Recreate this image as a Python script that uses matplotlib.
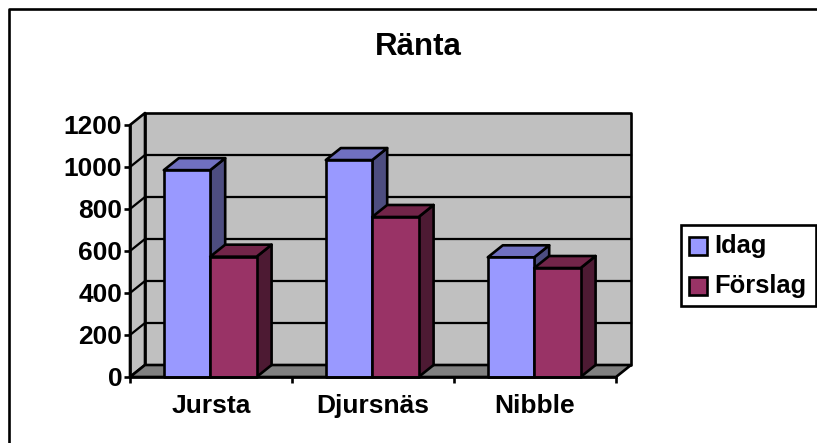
import matplotlib.pyplot as plt
from matplotlib.patches import Polygon, Rectangle
from matplotlib.lines import Line2D

plt.rcParams["font.family"] = "Liberation Sans"
plt.rcParams["font.weight"] = "bold"

categories = ["Jursta", "Djursnäs", "Nibble"]
idag = [985, 1033, 570]
forslag = [573, 762, 519]
y_ticks = [0, 200, 400, 600, 800, 1000, 1200]

W, H = 817, 443
# depth of the fake 3d, in data units
DX = 15 / 162
DY = 12 / 0.21
BAR_W = 46.4 / 162
LW = 1.9
FS = 19


def poly(ax, pts, fc, z, lw=LW):
    ax.add_patch(Polygon(pts, closed=True, fc=fc, ec="black", lw=lw, zorder=z,
                         joinstyle="round", clip_on=False))


def bar3d(ax, x, v, front, top, side, z):
    x2 = x + BAR_W
    poly(ax, [(x2, 0), (x2 + DX, DY), (x2 + DX, v + DY), (x2, v)], side, z)
    poly(ax, [(x, v), (x + DX, v + DY), (x2 + DX, v + DY), (x2, v)], top, z)
    poly(ax, [(x, 0), (x2, 0), (x2, v), (x, v)], front, z)


fig = plt.figure(figsize=(W / 100, H / 100), dpi=100, facecolor="white")
# outer frame only shows on the left and top, the rest is cut off
fig.add_artist(Line2D([9 / W, 9 / W, 1], [0, 1 - 9 / H, 1 - 9 / H], color="black", lw=1.9,
                      transform=fig.transFigure, zorder=-1))

ax = fig.add_axes([130 / W, 1 - 377 / H, 486 / W, 252 / H])
ax.set_xlim(-0.5, 2.5)
ax.set_ylim(0, 1200)
ax.patch.set_visible(False)
for s in ["top", "right", "bottom", "left"]:
    ax.spines[s].set_visible(False)

left, right = -0.5, 2.5
# walls and floor
poly(ax, [(left + DX, DY), (right + DX, DY), (right + DX, 1200 + DY), (left + DX, 1200 + DY)], "#c0c0c0", 1)
poly(ax, [(left, 0), (left + DX, DY), (left + DX, 1200 + DY), (left, 1200)], "#c0c0c0", 1)
poly(ax, [(left, 0), (right, 0), (right + DX, DY), (left + DX, DY)], "#808080", 1)

# gridlines
for t in y_ticks[1:-1]:
    ax.plot([left, left + DX, right + DX], [t, t + DY, t + DY], color="black", lw=LW * 0.85, zorder=2, clip_on=False)

# bars
for i in range(len(categories)):
    x0 = i - BAR_W - 0.005
    bar3d(ax, x0, idag[i], "#9999ff", "#7070c0", "#4d4d80", 3 + i)
    bar3d(ax, x0 + BAR_W, forslag[i], "#993366", "#722549", "#4d1a33", 3.5 + i)

ax.plot([left, left], [0, 1200], color="black", lw=LW, zorder=9, clip_on=False)
ax.plot([left, right], [0, 0], color="black", lw=LW, zorder=9, clip_on=False)

ax.set_yticks(y_ticks)
ax.set_yticklabels([str(t) for t in y_ticks], fontsize=FS, fontweight="bold")
ax.set_xticks([-0.5, 0.5, 1.5, 2.5])
ax.set_xticklabels([])
ax.tick_params(axis="both", width=LW, length=4.5, color="black", pad=1)
ax.tick_params(axis="x", direction="out", length=4)
for i, c in enumerate(categories):
    ax.text(i, -136, c, ha="center", va="center", fontsize=FS, fontweight="bold", clip_on=False)

fig.text(418 / W, 1 - 47 / H, "Ränta", ha="center", va="center", fontsize=22.5, fontweight="bold")

# legend drawn by hand to match the box
fig.add_artist(Rectangle((681 / W, 1 - 305.5 / H), 135 / W, 80.5 / H, fc="white", ec="black",
                         lw=LW, transform=fig.transFigure))
for name, col, yc in [("Idag", "#9999ff", 246), ("Förslag", "#993366", 286)]:
    fig.add_artist(Rectangle((689 / W, 1 - (yc + 9) / H), 18 / W, 18 / H, fc=col, ec="black",
                             lw=LW, transform=fig.transFigure))
    fig.text(714 / W, 1 - yc / H, name, ha="left", va="center", fontsize=18.4, fontweight="bold")

fig.savefig("out.png", dpi=100)
